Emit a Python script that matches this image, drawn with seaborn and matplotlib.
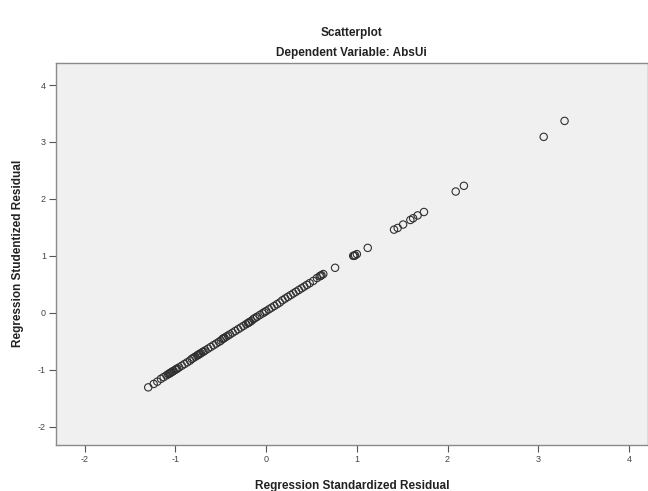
import pandas as pd
import matplotlib
matplotlib.use("Agg")
import matplotlib.pyplot as plt
import seaborn as sns

# regression residuals
std_resid = [-1.30, -1.24, -1.20, -1.16, -1.13, -1.10, -1.08, -1.07, -1.06, -1.05,
             -1.04, -1.03, -1.02, -1.00, -0.99, -0.98, -0.96, -0.93, -0.90, -0.87,
             -0.84, -0.82, -0.80, -0.78, -0.76, -0.75, -0.74, -0.73, -0.72, -0.70,
             -0.69, -0.67, -0.64, -0.61, -0.58, -0.55, -0.52, -0.50, -0.48, -0.47,
             -0.46, -0.44, -0.42, -0.40, -0.37, -0.34, -0.31, -0.28, -0.25, -0.22,
             -0.20, -0.19, -0.18, -0.16, -0.14, -0.12, -0.10, -0.07, -0.04, -0.02,
             0.00, 0.03, 0.06, 0.09, 0.12, 0.15, 0.18, 0.21, 0.24, 0.27,
             0.30, 0.33, 0.36, 0.39, 0.42, 0.45, 0.48, 0.52, 0.56, 0.59,
             0.60, 0.61, 0.63, 0.76, 0.96, 0.97, 0.98, 1.00, 1.12, 1.41,
             1.45, 1.51, 1.59, 1.62, 1.67, 1.74, 2.09, 2.18, 3.06, 3.29]
stud_resid = [-1.31, -1.25, -1.21, -1.16, -1.13, -1.10, -1.08, -1.07, -1.06, -1.05,
              -1.04, -1.03, -1.02, -1.00, -0.99, -0.98, -0.96, -0.93, -0.90, -0.87,
              -0.84, -0.81, -0.79, -0.77, -0.75, -0.74, -0.73, -0.72, -0.71, -0.69,
              -0.68, -0.66, -0.63, -0.60, -0.57, -0.54, -0.51, -0.49, -0.46, -0.45,
              -0.44, -0.42, -0.40, -0.38, -0.35, -0.32, -0.29, -0.26, -0.23, -0.20,
              -0.18, -0.17, -0.16, -0.14, -0.11, -0.09, -0.07, -0.04, -0.01, 0.01,
              0.03, 0.06, 0.09, 0.12, 0.15, 0.18, 0.22, 0.25, 0.28, 0.31,
              0.34, 0.37, 0.40, 0.43, 0.46, 0.49, 0.52, 0.56, 0.61, 0.64,
              0.65, 0.66, 0.68, 0.79, 1.00, 1.00, 1.01, 1.03, 1.14, 1.46,
              1.49, 1.55, 1.63, 1.66, 1.71, 1.77, 2.13, 2.23, 3.09, 3.37]

ticks = [-2, -1, 0, 1, 2, 3, 4]

df = pd.DataFrame({"std": std_resid, "stud": stud_resid})

sns.set_style("ticks")
plt.rcParams["font.family"] = ["Liberation Sans", "DejaVu Sans"]

fig = plt.figure(figsize=(6.48, 4.91), dpi=100)
ax = fig.add_axes([0.086, 0.094, 0.914, 0.778])
ax.set_facecolor("#f0f0f0")

sns.scatterplot(data=df, x="std", y="stud", ax=ax, marker="o", s=28,
                facecolors="none", edgecolor="#303030", linewidth=0.8)

ax.set_xlim(-2.32, 4.21)
ax.set_ylim(-2.32, 4.39)
ax.set_xticks(ticks)
ax.set_yticks(ticks)
ax.set_xticklabels([str(t) for t in ticks])
ax.set_yticklabels([str(t) for t in ticks])
ax.tick_params(axis="both", direction="out", length=5, width=0.8,
               color="#555555", labelsize=6.5, labelcolor="#444444", pad=2)

for side in ["top", "right", "bottom", "left"]:
    ax.spines[side].set_color("#8a8a8a")
    ax.spines[side].set_linewidth(1.0)

ax.set_xlabel("Regression Standardized Residual", fontsize=8.5,
              fontweight="bold", color="#222222", labelpad=12)
ax.set_ylabel("Regression Studentized Residual", fontsize=8.5,
              fontweight="bold", color="#222222", labelpad=10)

cx = 0.086 + 0.914 / 2
fig.text(cx, 1 - 33 / 491, "Scatterplot", ha="center", va="center",
         fontsize=8.5, fontweight="bold", color="#222222")
fig.text(cx, 1 - 53 / 491, "Dependent Variable: AbsUi", ha="center",
         va="center", fontsize=8.5, fontweight="bold", color="#222222")

fig.savefig("out.png", dpi=100)
